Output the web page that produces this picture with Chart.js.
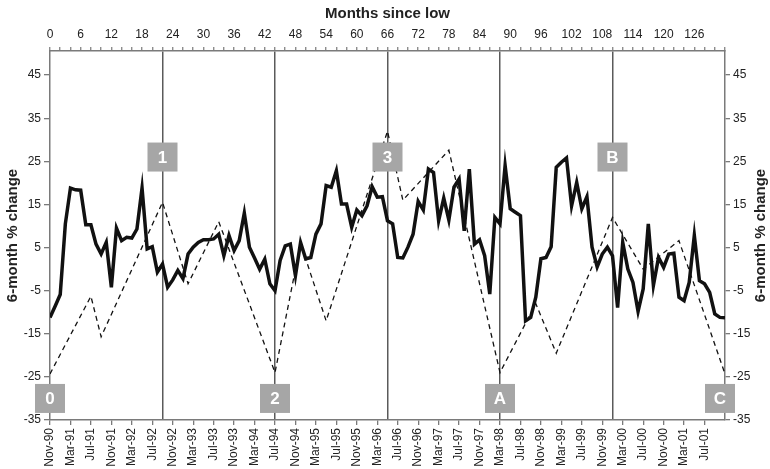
<!DOCTYPE html>
<html>
<head>
<meta charset="utf-8">
<script src="https://cdn.jsdelivr.net/npm/chart.js@4.4.1/dist/chart.umd.min.js"></script>
<style>
  html, body { margin: 0; padding: 0; background: #fff; }
  #wrap { width: 770px; height: 469px; }
</style>
</head>
<body>
<div id="wrap"><canvas id="cycleChart" width="770" height="469"></canvas></div>
<script>
// 6-month % change, monthly from Nov-90 (month 0) to Nov-01 (month 132)
const changeValues = [
  -11.2, -8.6, -5.9, 10.5, 18.8, 18.4, 18.3, 10.3, 10.3, 5.8,
  3.5, 6.2, -4.2, 9.5, 6.6, 7.4, 7.2, 9.3, 18.8, 4.7,
  5.2, -0.7, 1.2, -4.2, -2.5, -0.3, -2.2, 3.5, 5.1, 6.2,
  6.8, 6.8, 7.0, 8.1, 3.1, 7.8, 4.3, 6.6, 13.0, 5.1,
  2.6, 0.0, 2.3, -3.4, -5.0, 2.0, 5.4, 5.8, -1.5, 6.2,
  2.4, 2.7, 8.1, 10.5, 19.4, 19.0, 22.8, 15.1, 15.1, 9.7,
  13.7, 12.4, 14.7, 19.1, 16.7, 16.8, 11.2, 10.5, 2.7, 2.6,
  5.1, 8.1, 15.7, 13.7, 23.2, 22.4, 11.2, 16.5, 11.4, 19.0,
  20.9, 8.9, 23.2, 5.8, 6.8, 3.1, -5.8, 12.0, 10.5, 24.0,
  14.0, 13.2, 12.4, -12.0, -11.2, -6.5, 2.4, 2.7, 5.2, 23.6,
  24.8, 25.8, 14.7, 20.1, 14.0, 16.8, 5.1, 0.5, 3.5, 5.1,
  3.1, -8.9, 6.2, 0.0, -3.1, -9.8, -4.6, 10.5, -3.8, 2.7,
  0.4, 3.5, 3.7, -6.5, -7.3, -3.1, 7.8, -2.7, -3.4, -5.4,
  -10.4, -11.2, -11.3
];

// dashed cycle template (turning points only)
const templateMonths = [0, 8, 10, 22, 27, 33, 44, 49, 54, 66, 69, 78, 88, 95, 99, 110, 116, 123, 132];
const templateValues = [-24.3, -6.3, -15.7, 15.5, -3.4, 11, -24, 6, -12, 32, 16, 27.6, -24, -8, -19.5, 12, 0, 6.6, -24.3];

// cycle markers
const cycleMonths = [0, 22, 44, 66, 88, 110, 132];
const cycleLabels = ['0', '1', '2', '3', 'A', 'B', 'C'];

// axis ticks
const dateLabels = [
  'Nov-90', 'Mar-91', 'Jul-91', 'Nov-91', 'Mar-92', 'Jul-92', 'Nov-92', 'Mar-93', 'Jul-93',
  'Nov-93', 'Mar-94', 'Jul-94', 'Nov-94', 'Mar-95', 'Jul-95', 'Nov-95', 'Mar-96', 'Jul-96',
  'Nov-96', 'Mar-97', 'Jul-97', 'Nov-97', 'Mar-98', 'Jul-98', 'Nov-98', 'Mar-99', 'Jul-99',
  'Nov-99', 'Mar-00', 'Jul-00', 'Nov-00', 'Mar-01', 'Jul-01'
];
const topTickLabels = [0, 6, 12, 18, 24, 30, 36, 42, 48, 54, 60, 66, 72, 78, 84, 90, 96, 102, 108, 114, 120, 126];
const yTicks = [-35, -25, -15, -5, 5, 15, 25, 35, 45];

const FONT = '"Liberation Sans", Arial, sans-serif';
const axisGrey = '#7a7a7a';

const markers = {
  id: 'markers',
  afterDatasetsDraw(chart) {
    const { ctx, chartArea, scales } = chart;
    ctx.save();
    ctx.font = 'bold 17px ' + FONT;
    ctx.textAlign = 'center';
    ctx.textBaseline = 'middle';
    cycleMonths.forEach((m, i) => {
      const x = Math.min(scales.x.getPixelForValue(m), chartArea.right - 5);
      const y = scales.y.getPixelForValue(i % 2 ? 26 : -30);
      ctx.fillStyle = '#a6a6a6';
      ctx.fillRect(x - 15, y - 14.5, 30, 29);
      ctx.fillStyle = '#fff';
      ctx.fillText(cycleLabels[i], x, y + 1);
    });
    // right axis title reads bottom-to-top like the left one
    ctx.translate(761, (chartArea.top + chartArea.bottom) / 2);
    ctx.rotate(-Math.PI / 2);
    ctx.fillStyle = '#222';
    ctx.font = 'bold 15px ' + FONT;
    ctx.fillText('6-month % change', 0, 0);
    ctx.restore();
  }
};

const ctx = document.getElementById('cycleChart').getContext('2d');

new Chart(ctx, {
  type: 'line',
  data: {
    datasets: [{
      label: '6-month % change',
      data: changeValues.map((v, i) => ({ x: i, y: v })),
      borderColor: '#111',
      borderWidth: 3.5,
      borderJoinStyle: 'miter',
      pointRadius: 0,
      tension: 0
    }, {
      label: 'Cycle',
      data: templateMonths.map((m, i) => ({ x: m, y: templateValues[i] })),
      borderColor: '#111',
      borderWidth: 1.3,
      borderDash: [5, 4],
      pointRadius: 0,
      tension: 0
    }]
  },
  options: {
    responsive: false,
    animation: false,
    devicePixelRatio: 1,
    layout: { padding: 0 },
    plugins: {
      legend: { display: false },
      tooltip: { enabled: false }
    },
    scales: {
      x: {
        type: 'linear',
        position: 'bottom',
        min: 0,
        max: 132,
        afterBuildTicks: s => { s.ticks = dateLabels.map((_, i) => ({ value: i * 4 })); },
        afterFit: s => { s.height = 49; },
        ticks: {
          autoSkip: false,
          minRotation: 90,
          maxRotation: 90,
          padding: 3,
          color: '#222',
          font: { family: FONT, size: 12 },
          callback: (v, i) => dateLabels[i]
        },
        grid: { drawOnChartArea: false, tickLength: 5, color: axisGrey, lineWidth: 1.3 },
        border: { color: axisGrey, width: 1.5 }
      },
      xTop: {
        type: 'linear',
        position: 'top',
        min: 0,
        max: 132,
        afterBuildTicks: s => {
          const t = [];
          for (let v = 0; v <= 132; v += 2) t.push({ value: v });
          s.ticks = t;
        },
        afterFit: s => { s.height = 51; },
        title: {
          display: true,
          text: 'Months since low',
          color: '#222',
          font: { family: FONT, size: 15, weight: 'bold' },
          padding: { top: 5, bottom: 0 }
        },
        ticks: {
          autoSkip: false,
          maxRotation: 0,
          padding: 5,
          color: '#222',
          font: { family: FONT, size: 12 },
          callback: v => (topTickLabels.includes(v) ? String(v) : '')
        },
        grid: {
          drawOnChartArea: true,
          tickLength: 4,
          lineWidth: 1.5,
          color: c => (c.tick && cycleMonths.slice(1, -1).includes(c.tick.value) ? '#5a5a5a' : 'rgba(0,0,0,0)'),
          tickColor: axisGrey,
          tickWidth: 1.2
        },
        border: { color: axisGrey, width: 1.5 }
      },
      y: {
        position: 'left',
        min: -35,
        max: 50.6,
        afterBuildTicks: s => { s.ticks = yTicks.map(v => ({ value: v })); },
        afterFit: s => { s.width = 50; },
        title: {
          display: true,
          text: '6-month % change',
          color: '#222',
          font: { family: FONT, size: 15, weight: 'bold' },
          padding: { top: 4, bottom: 0 }
        },
        ticks: { padding: 3, color: '#222', font: { family: FONT, size: 12 } },
        grid: { drawOnChartArea: false, tickLength: 6, color: axisGrey, lineWidth: 1.3 },
        border: { color: axisGrey, width: 1.5 }
      },
      y2: {
        position: 'right',
        min: -35,
        max: 50.6,
        afterBuildTicks: s => { s.ticks = yTicks.map(v => ({ value: v })); },
        afterFit: s => { s.width = 45; },
        ticks: { padding: 3, color: '#222', font: { family: FONT, size: 12 } },
        grid: { drawOnChartArea: false, tickLength: 5, color: axisGrey, lineWidth: 1.3 },
        border: { color: axisGrey, width: 1.5 }
      }
    }
  },
  plugins: [markers]
});
</script>
</body>
</html>
